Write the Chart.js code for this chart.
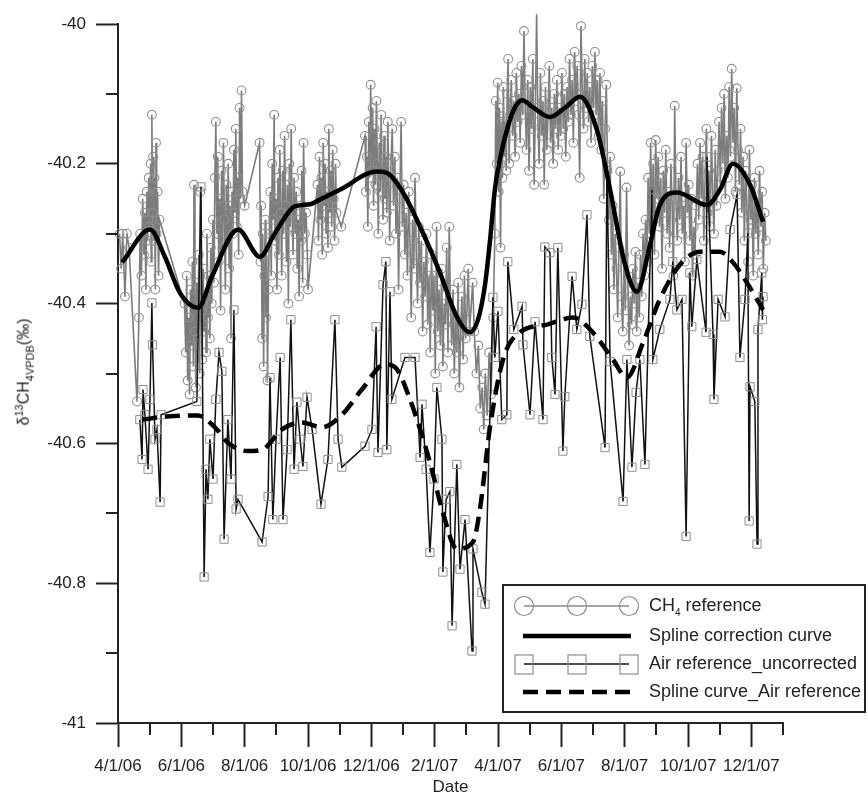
<!DOCTYPE html>
<html>
<head>
<meta charset="utf-8">
<script src="https://cdn.jsdelivr.net/npm/chart.js@4.4.1/dist/chart.umd.min.js"></script>
<style>
  html, body { margin: 0; padding: 0; background: #fff; }
  #wrap { position: relative; width: 868px; height: 796px; font-family: "Liberation Sans", Arial, sans-serif; color: #222; }
  #chart { position: absolute; left: 0; top: 0; }
  #ytitle { position: absolute; left: 24px; top: 372px; transform: translate(-50%, -50%) rotate(-90deg); white-space: nowrap; font-size: 16px; }
  #ytitle sup, #ytitle sub { font-size: 11px; }
  #legend { position: absolute; left: 502px; top: 584px; width: 364px; height: 129px; border: 2px solid #222; box-sizing: border-box; }
  .row { position: absolute; left: 0; width: 360px; height: 28px; }
  .row svg { position: absolute; left: 0; top: 0; }
  .row span { position: absolute; left: 145px; top: 3px; font-size: 18px; white-space: nowrap; }
  .row sub { font-size: 10px; }
</style>
</head>
<body>
<div id="wrap">
  <canvas id="chart" width="868" height="796"></canvas>
  <div id="ytitle">&delta;<sup>13</sup>CH<sub>4VPDB</sub>(&permil;)</div>
  <div id="legend"></div>
</div>
<script>
// x = months after 4/1/06
const xMajorTicks = [0, 2, 4, 6, 8, 10, 12, 14, 16, 18, 20];
const xMinorTicks = [1, 3, 5, 7, 9, 11, 13, 15, 17, 19, 21];
const yMinorTicks = [-40.9, -40.7, -40.5, -40.3, -40.1];

const ch4Reference = [
  [0.05,-40.30],[0.10,-40.35],[0.15,-40.30],[0.22,-40.39],[0.28,-40.30],[0.35,-40.32],[0.60,-40.54],
  [0.66,-40.42],[0.70,-40.30],[0.74,-40.36],[0.78,-40.25],[0.82,-40.33],[0.85,-40.27],[0.88,-40.38],
  [0.91,-40.24],[0.94,-40.31],[0.97,-40.22],[1.00,-40.29],[1.03,-40.20],[1.05,-40.34],[1.07,-40.13],
  [1.09,-40.27],[1.11,-40.19],[1.13,-40.31],[1.15,-40.22],[1.18,-40.38],[1.20,-40.17],[1.22,-40.30],
  [1.25,-40.24],[1.28,-40.36],[1.31,-40.28],
  [2.10,-40.40],[2.14,-40.47],[2.17,-40.36],[2.20,-40.51],[2.23,-40.42],[2.26,-40.53],[2.29,-40.38],
  [2.32,-40.46],[2.35,-40.34],[2.38,-40.49],[2.40,-40.23],[2.43,-40.44],[2.46,-40.52],[2.49,-40.37],
  [2.52,-40.45],[2.55,-40.33],[2.58,-40.50],[2.60,-40.24],[2.63,-40.41],[2.66,-40.48],[2.69,-40.35],
  [2.72,-40.44],[2.75,-40.39],[2.78,-40.47],[2.81,-40.30],[2.84,-40.42],[2.87,-40.36],[2.90,-40.45],
  [2.93,-40.32],[2.96,-40.40],
  [3.00,-40.28],[3.03,-40.37],[3.06,-40.22],[3.09,-40.14],[3.12,-40.30],[3.15,-40.19],[3.18,-40.34],
  [3.21,-40.25],[3.24,-40.41],[3.27,-40.21],[3.30,-40.32],[3.33,-40.17],[3.36,-40.28],[3.39,-40.38],
  [3.42,-40.23],[3.45,-40.31],[3.48,-40.20],[3.51,-40.35],[3.54,-40.26],[3.57,-40.45],[3.60,-40.24],
  [3.63,-40.30],[3.66,-40.18],[3.69,-40.27],[3.72,-40.15],[3.75,-40.29],[3.78,-40.22],[3.81,-40.33],
  [3.84,-40.12],[3.87,-40.25],[3.90,-40.095],[3.93,-40.24],[4.00,-40.26],
  [4.47,-40.17],[4.50,-40.34],[4.52,-40.26],[4.55,-40.45],[4.57,-40.30],[4.60,-40.49],[4.62,-40.36],
  [4.65,-40.28],[4.67,-40.42],[4.70,-40.33],[4.72,-40.51],[4.75,-40.38],
  [4.78,-40.30],[4.81,-40.24],[4.84,-40.36],[4.87,-40.20],[4.90,-40.28],[4.93,-40.13],[4.96,-40.31],
  [4.99,-40.25],[5.02,-40.38],[5.05,-40.22],[5.08,-40.33],[5.11,-40.18],[5.14,-40.27],[5.17,-40.36],
  [5.20,-40.21],[5.23,-40.30],[5.26,-40.16],[5.29,-40.26],[5.32,-40.34],[5.35,-40.23],[5.38,-40.40],
  [5.41,-40.20],[5.44,-40.29],[5.47,-40.15],[5.50,-40.27],[5.53,-40.33],[5.56,-40.22],
  [5.60,-40.30],[5.63,-40.24],[5.66,-40.35],[5.69,-40.28],[5.72,-40.39],[5.75,-40.26],[5.78,-40.31],
  [5.80,-40.21],[5.83,-40.37],[5.86,-40.17],[5.90,-40.30],[5.94,-40.27],[5.98,-40.33],[6.00,-40.38],
  [6.30,-40.23],[6.33,-40.31],[6.36,-40.19],[6.39,-40.28],[6.42,-40.22],[6.45,-40.33],[6.48,-40.17],
  [6.51,-40.26],[6.54,-40.20],[6.57,-40.30],[6.60,-40.24],[6.63,-40.32],[6.66,-40.15],[6.69,-40.27],
  [6.72,-40.21],[6.75,-40.29],[6.78,-40.18],[6.81,-40.25],[6.84,-40.31],[6.87,-40.20],[6.90,-40.27],
  [7.05,-40.29],
  [7.80,-40.16],[7.83,-40.24],[7.86,-40.19],[7.89,-40.29],[7.92,-40.14],[7.95,-40.22],[7.98,-40.087],
  [8.01,-40.21],[8.04,-40.12],[8.07,-40.26],[8.10,-40.15],[8.13,-40.23],[8.16,-40.11],[8.19,-40.20],
  [8.22,-40.30],[8.25,-40.17],[8.28,-40.24],[8.31,-40.13],[8.34,-40.22],[8.37,-40.28],[8.40,-40.16],
  [8.43,-40.25],[8.46,-40.19],[8.49,-40.27],[8.52,-40.14],[8.55,-40.23],[8.58,-40.31],
  [8.62,-40.20],[8.66,-40.15],[8.70,-40.26],[8.74,-40.19],[8.78,-40.30],[8.82,-40.22],[8.86,-40.38],
  [8.90,-40.25],[8.94,-40.14],[8.98,-40.29],[9.02,-40.23],[9.06,-40.33],[9.10,-40.27],[9.14,-40.36],
  [9.18,-40.24],[9.22,-40.31],[9.26,-40.42],[9.30,-40.28],[9.34,-40.35],[9.38,-40.22],[9.42,-40.33],
  [9.46,-40.40],[9.50,-40.29],[9.54,-40.37],[9.58,-40.31],[9.62,-40.44],[9.66,-40.34],[9.70,-40.39],
  [9.74,-40.30],[9.78,-40.43],[9.82,-40.36],[9.86,-40.47],[9.90,-40.33],[9.94,-40.41],[9.98,-40.36],
  [10.02,-40.50],[10.06,-40.29],[10.10,-40.44],[10.14,-40.38],[10.18,-40.46],[10.22,-40.35],
  [10.26,-40.49],[10.30,-40.40],[10.34,-40.43],[10.38,-40.32],[10.42,-40.47],
  [10.46,-40.29],[10.50,-40.41],[10.54,-40.46],[10.58,-40.38],[10.62,-40.50],[10.66,-40.42],
  [10.70,-40.47],[10.74,-40.37],[10.78,-40.52],[10.82,-40.44],[10.86,-40.39],[10.90,-40.48],
  [10.94,-40.36],[10.98,-40.45],[11.02,-40.41],[11.06,-40.35],[11.10,-40.44],[11.20,-40.37],
  [11.25,-40.44],[11.32,-40.50],[11.38,-40.46],[11.44,-40.55],[11.50,-40.52],[11.55,-40.58],
  [11.60,-40.50],[11.66,-40.56],[11.72,-40.47],[11.78,-40.53],[11.85,-40.42],
  [11.90,-40.30],[11.93,-40.11],[11.96,-40.20],[11.99,-40.084],[12.02,-40.24],[12.05,-40.12],
  [12.08,-40.32],[12.11,-40.14],[12.14,-40.22],[12.17,-40.09],[12.20,-40.19],[12.23,-40.14],
  [12.26,-40.21],[12.29,-40.10],[12.32,-40.05],[12.35,-40.20],[12.38,-40.13],
  [12.42,-40.08],[12.46,-40.16],[12.50,-40.11],[12.54,-40.19],[12.58,-40.07],[12.62,-40.14],
  [12.66,-40.10],[12.70,-40.17],[12.74,-40.06],[12.78,-40.13],[12.82,-40.01],[12.86,-40.12],
  [12.90,-40.18],[12.94,-40.08],[12.98,-40.21],[13.02,-40.09],[13.06,-40.15],[13.10,-40.05],
  [13.14,-40.23],[13.18,-40.12],[13.22,-39.986],[13.26,-40.14],[13.30,-40.20],[13.34,-40.07],
  [13.38,-40.16],[13.42,-40.11],[13.46,-40.23],[13.50,-40.09],[13.54,-40.18],[13.58,-40.13],
  [13.62,-40.06],[13.66,-40.17],[13.70,-40.12],[13.74,-40.20],[13.78,-40.10],[13.82,-40.15],
  [13.86,-40.08],[13.90,-40.18],[13.94,-40.12],[13.98,-40.16],
  [14.02,-40.07],[14.06,-40.15],[14.10,-40.10],[14.14,-40.19],[14.18,-40.09],[14.22,-40.14],
  [14.26,-40.05],[14.30,-40.13],[14.34,-40.08],[14.38,-40.17],[14.42,-40.04],[14.46,-40.11],
  [14.50,-40.06],[14.54,-40.13],[14.58,-40.22],[14.62,-40.003],[14.66,-40.09],[14.70,-40.15],
  [14.74,-40.05],[14.78,-40.12],[14.82,-40.07],[14.86,-40.14],[14.90,-40.09],[14.94,-40.17],
  [14.98,-40.06],[15.02,-40.12],[15.06,-40.04],[15.10,-40.13],[15.14,-40.08],[15.18,-40.16],
  [15.22,-40.07],[15.26,-40.18],[15.30,-40.11],[15.34,-40.25],[15.38,-40.15],[15.42,-40.087],
  [15.46,-40.21],[15.50,-40.28],[15.54,-40.19],[15.58,-40.33],[15.62,-40.26],[15.66,-40.38],
  [15.70,-40.30],[15.74,-40.35],[15.78,-40.42],[15.82,-40.32],[15.86,-40.211],[15.90,-40.39],
  [15.94,-40.44],[15.98,-40.33],[16.02,-40.41],[16.06,-40.234],[16.10,-40.37],[16.14,-40.46],
  [16.18,-40.39],[16.22,-40.43],[16.26,-40.35],[16.30,-40.40],[16.34,-40.326],[16.38,-40.44],
  [16.42,-40.37],[16.46,-40.42],[16.50,-40.33],[16.54,-40.39],[16.58,-40.30],[16.62,-40.36],
  [16.66,-40.28],[16.70,-40.34],
  [16.74,-40.22],[16.78,-40.30],[16.82,-40.17],[16.86,-40.27],[16.90,-40.20],[16.94,-40.33],
  [16.98,-40.166],[17.02,-40.25],[17.06,-40.19],[17.10,-40.29],[17.14,-40.22],[17.18,-40.35],
  [17.22,-40.21],[17.26,-40.27],[17.30,-40.18],[17.34,-40.30],[17.38,-40.24],[17.42,-40.32],
  [17.46,-40.20],[17.50,-40.26],[17.54,-40.36],[17.58,-40.117],
  [17.62,-40.25],[17.66,-40.31],[17.70,-40.22],[17.74,-40.28],[17.78,-40.19],[17.82,-40.30],
  [17.86,-40.26],[17.90,-40.34],[17.94,-40.17],[17.98,-40.27],[18.02,-40.23],[18.06,-40.31],
  [18.10,-40.25],[18.14,-40.36],[18.18,-40.29],[18.22,-40.33],[18.26,-40.26],
  [18.30,-40.20],[18.34,-40.28],[18.38,-40.17],[18.42,-40.25],[18.46,-40.19],[18.50,-40.31],
  [18.54,-40.22],[18.58,-40.15],[18.62,-40.27],[18.66,-40.21],[18.70,-40.29],[18.74,-40.16],
  [18.78,-40.24],[18.82,-40.30],[18.86,-40.18],[18.90,-40.26],[18.94,-40.21],
  [18.98,-40.14],[19.02,-40.23],[19.06,-40.12],[19.10,-40.20],[19.14,-40.10],[19.18,-40.25],
  [19.22,-40.16],[19.26,-40.22],[19.30,-40.09],[19.34,-40.19],[19.38,-40.064],[19.42,-40.17],
  [19.46,-40.12],[19.50,-40.24],[19.54,-40.092],[19.58,-40.18],
  [19.62,-40.23],[19.66,-40.15],[19.70,-40.27],[19.74,-40.19],[19.78,-40.31],[19.82,-40.21],
  [19.86,-40.26],[19.90,-40.34],[19.94,-40.18],[19.98,-40.28],[20.02,-40.23],[20.06,-40.36],
  [20.10,-40.22],[20.14,-40.30],[20.18,-40.26],[20.22,-40.33],[20.26,-40.21],[20.30,-40.29],
  [20.34,-40.24],[20.38,-40.35],[20.42,-40.27],[20.46,-40.31]
];

const splineCorrection = [
  [0.13,-40.341],[1.01,-40.294],[1.48,-40.333],[1.96,-40.385],[2.53,-40.406],[2.97,-40.361],
  [3.79,-40.294],[4.48,-40.333],[4.96,-40.299],[5.59,-40.261],[6.06,-40.258],[6.38,-40.251],
  [7.01,-40.237],[8.18,-40.211],[8.49,-40.213],[9.00,-40.241],[9.63,-40.299],[10.17,-40.356],
  [10.70,-40.419],[11.11,-40.441],[11.37,-40.423],[11.59,-40.373],[11.75,-40.309],[11.90,-40.237],
  [12.06,-40.194],[12.31,-40.147],[12.54,-40.119],[12.76,-40.109],[13.10,-40.119],[13.64,-40.133],
  [14.11,-40.120],[14.59,-40.104],[15.12,-40.151],[15.54,-40.237],[16.01,-40.344],[16.39,-40.383],
  [16.80,-40.316],[17.11,-40.259],[17.65,-40.241],[18.60,-40.259],[19.01,-40.237],[19.42,-40.200],
  [19.96,-40.230],[20.37,-40.283]
];

const airReference = [
  [0.69,-40.566],[0.76,-40.623],[0.79,-40.523],[0.85,-40.559],[0.95,-40.637],[1.01,-40.537],
  [1.07,-40.399],[1.09,-40.459],[1.17,-40.594],[1.23,-40.580],[1.33,-40.684],[1.36,-40.559],
  [2.49,-40.540],[2.62,-40.233],[2.72,-40.791],[2.78,-40.637],[2.84,-40.680],[2.90,-40.594],
  [3.00,-40.651],[3.09,-40.537],[3.19,-40.470],[3.28,-40.497],[3.35,-40.737],[3.47,-40.566],
  [3.57,-40.651],[3.66,-40.409],[3.73,-40.694],[3.79,-40.680],[4.55,-40.741],[4.74,-40.676],
  [4.80,-40.506],[4.89,-40.709],[4.99,-40.594],[5.12,-40.477],[5.21,-40.709],[5.34,-40.609],
  [5.46,-40.423],[5.56,-40.637],[5.65,-40.541],[5.75,-40.594],[5.84,-40.633],[5.97,-40.534],
  [6.13,-40.580],[6.41,-40.687],[6.63,-40.623],[6.85,-40.423],[6.95,-40.594],[7.07,-40.634],
  [7.80,-40.604],[8.02,-40.580],[8.15,-40.433],[8.21,-40.613],[8.37,-40.373],[8.46,-40.340],
  [8.49,-40.609],[8.59,-40.383],[8.65,-40.537],[9.06,-40.477],[9.38,-40.477],[9.54,-40.620],
  [9.60,-40.544],[9.73,-40.637],[9.85,-40.756],[9.98,-40.651],[10.07,-40.520],[10.23,-40.594],
  [10.26,-40.784],[10.36,-40.680],[10.48,-40.669],[10.55,-40.861],[10.70,-40.630],[10.80,-40.780],
  [10.96,-40.709],[11.18,-40.897],[11.21,-40.751],[11.49,-40.813],[11.59,-40.830],[11.84,-40.391],
  [11.90,-40.477],[12.00,-40.411],[12.12,-40.566],[12.28,-40.559],[12.31,-40.340],[12.50,-40.437],
  [12.76,-40.404],[12.79,-40.459],[13.01,-40.559],[13.17,-40.426],[13.42,-40.566],[13.48,-40.319],
  [13.64,-40.327],[13.70,-40.477],[13.80,-40.530],[13.89,-40.320],[14.05,-40.611],[14.11,-40.533],
  [14.34,-40.361],[14.49,-40.437],[14.65,-40.401],[14.81,-40.273],[14.90,-40.447],[15.38,-40.606],
  [15.44,-40.204],[15.54,-40.483],[15.95,-40.683],[16.07,-40.480],[16.23,-40.634],[16.36,-40.527],
  [16.48,-40.480],[16.64,-40.630],[16.86,-40.237],[16.89,-40.480],[17.11,-40.437],[17.43,-40.394],
  [17.52,-40.340],[17.65,-40.409],[17.81,-40.394],[17.94,-40.733],[18.06,-40.356],[18.12,-40.433],
  [18.28,-40.337],[18.57,-40.441],[18.60,-40.190],[18.79,-40.444],[18.82,-40.537],[18.95,-40.394],
  [19.17,-40.419],[19.33,-40.294],[19.55,-40.244],[19.64,-40.477],[19.80,-40.394],[19.89,-40.299],
  [19.93,-40.711],[19.96,-40.519],[20.11,-40.540],[20.18,-40.744],[20.21,-40.437],[20.33,-40.356],
  [20.35,-40.423],[20.37,-40.390]
];

const splineAir = [
  [0.76,-40.566],[1.64,-40.561],[2.53,-40.560],[3.06,-40.577],[3.47,-40.599],[4.10,-40.611],
  [4.55,-40.609],[5.18,-40.580],[5.81,-40.570],[6.44,-40.577],[7.07,-40.559],[7.70,-40.523],
  [8.43,-40.487],[8.75,-40.491],[9.22,-40.537],[9.85,-40.627],[10.26,-40.699],[10.70,-40.751],
  [11.21,-40.741],[11.43,-40.694],[11.75,-40.576],[12.16,-40.480],[12.69,-40.441],[13.55,-40.430],
  [14.37,-40.420],[14.99,-40.441],[15.63,-40.480],[16.07,-40.506],[16.58,-40.456],[17.11,-40.394],
  [17.75,-40.344],[18.38,-40.326],[19.01,-40.326],[19.42,-40.341],[19.86,-40.370],[20.37,-40.409]
];

const FONT = '"Liberation Sans", Arial, sans-serif';
const AXIS = '#222';

function monthLabel(m) {
  const t = 3 + m;
  const yr = 6 + Math.floor(t / 12);
  return (t % 12 + 1) + '/1/' + String(yr).padStart(2, '0');
}
const toXY = arr => arr.map(p => ({x: p[0], y: p[1]}));
const isMajorY = v => Math.abs(Math.round(v * 10)) % 2 === 0;

// short minor ticks between the labelled ones
const minorTicks = {
  id: 'minorTicks',
  afterDraw(chart) {
    const {ctx, chartArea, scales} = chart;
    ctx.save();
    ctx.strokeStyle = AXIS;
    ctx.lineWidth = 2;
    ctx.beginPath();
    xMinorTicks.forEach(v => {
      const px = Math.round(scales.x.getPixelForValue(v));
      ctx.moveTo(px, chartArea.bottom);
      ctx.lineTo(px, chartArea.bottom + 12);
    });
    yMinorTicks.forEach(v => {
      const py = Math.round(scales.y.getPixelForValue(v));
      ctx.moveTo(chartArea.left, py);
      ctx.lineTo(chartArea.left - 12, py);
    });
    ctx.stroke();
    ctx.restore();
  }
};

new Chart(document.getElementById('chart'), {
  type: 'line',
  data: {
    datasets: [
      {
        label: 'Spline correction curve',
        data: toXY(splineCorrection),
        borderColor: '#000', borderWidth: 4.5,
        pointRadius: 0, cubicInterpolationMode: 'monotone',
        order: 1, clip: false
      },
      {
        label: 'Spline curve_Air reference',
        data: toXY(splineAir),
        borderColor: '#000', borderWidth: 4.5, borderDash: [15, 8],
        pointRadius: 0, cubicInterpolationMode: 'monotone',
        order: 2, clip: false
      },
      {
        label: 'Air reference_uncorrected',
        data: toXY(airReference),
        borderColor: '#111', borderWidth: 1.5,
        pointStyle: 'rect', pointRadius: 5.8,
        pointBorderColor: '#8e8e8e', pointBackgroundColor: 'rgba(0,0,0,0)', pointBorderWidth: 1,
        order: 3, clip: false
      },
      {
        label: 'CH4 reference',
        data: toXY(ch4Reference),
        borderColor: '#7c7c7c', borderWidth: 1.6,
        pointStyle: 'circle', pointRadius: 4.4,
        pointBorderColor: '#909090', pointBackgroundColor: 'rgba(0,0,0,0)', pointBorderWidth: 1.1,
        order: 4, clip: false
      }
    ]
  },
  options: {
    responsive: false,
    animation: false,
    layout: {padding: {top: 24, right: 85, left: 0, bottom: 0}},
    plugins: {legend: {display: false}, tooltip: {enabled: false}},
    scales: {
      x: {
        type: 'linear', min: 0, max: 21,
        afterFit: s => { s.height = 73; },
        border: {display: true, color: AXIS, width: 2},
        grid: {
          drawOnChartArea: false, tickLength: 24, tickWidth: 2,
          tickColor: c => (c.tick && xMajorTicks.includes(Math.round(c.tick.value))) ? AXIS : 'rgba(0,0,0,0)'
        },
        ticks: {
          stepSize: 1, autoSkip: false, maxRotation: 0, padding: 9,
          color: AXIS, font: {family: FONT, size: 17},
          callback: v => xMajorTicks.includes(v) ? monthLabel(v) : ''
        },
        title: {display: true, text: 'Date', color: AXIS, font: {family: FONT, size: 17}, padding: {top: 0, bottom: -2}}
      },
      y: {
        min: -41, max: -40,
        afterFit: s => { s.width = 118; },
        border: {display: true, color: AXIS, width: 2},
        grid: {
          drawOnChartArea: false, tickLength: 22, tickWidth: 2,
          tickColor: c => (c.tick && isMajorY(c.tick.value)) ? AXIS : 'rgba(0,0,0,0)'
        },
        ticks: {
          stepSize: 0.1, padding: 10, color: AXIS, font: {family: FONT, size: 17},
          callback: v => isMajorY(v) ? String(Number(v.toFixed(1))) : ''
        }
      }
    }
  },
  plugins: [minorTicks]
});

// legend drawn as html so CH4 can carry its subscript
const legendRows = [
  {text: 'CH<sub>4</sub> reference', kind: 'circle'},
  {text: 'Spline correction curve', kind: 'solid'},
  {text: 'Air reference_uncorrected', kind: 'square'},
  {text: 'Spline curve_Air reference', kind: 'dash'}
];
const rowTops = [6, 36, 64, 92];
const markX = [20, 73, 125];
const legend = document.getElementById('legend');
legendRows.forEach((r, i) => {
  let svg = '<svg width="140" height="28">';
  if (r.kind === 'circle') {
    svg += '<line x1="20" y1="14" x2="125" y2="14" stroke="#888" stroke-width="1.4"/>';
    markX.forEach(x => { svg += '<circle cx="' + x + '" cy="14" r="9.5" fill="none" stroke="#8e8e8e" stroke-width="1.2"/>'; });
  } else if (r.kind === 'square') {
    svg += '<line x1="20" y1="14" x2="125" y2="14" stroke="#111" stroke-width="1.4"/>';
    markX.forEach(x => { svg += '<rect x="' + (x - 9) + '" y="5" width="18" height="19" fill="none" stroke="#8e8e8e" stroke-width="1.2"/>'; });
  } else if (r.kind === 'solid') {
    svg += '<line x1="19" y1="14" x2="127" y2="14" stroke="#000" stroke-width="4.5"/>';
  } else {
    svg += '<line x1="19" y1="14" x2="127" y2="14" stroke="#000" stroke-width="4.5" stroke-dasharray="15 8"/>';
  }
  svg += '</svg>';
  const div = document.createElement('div');
  div.className = 'row';
  div.style.top = rowTops[i] + 'px';
  div.innerHTML = svg + '<span>' + r.text + '</span>';
  legend.appendChild(div);
});
</script>
</body>
</html>
